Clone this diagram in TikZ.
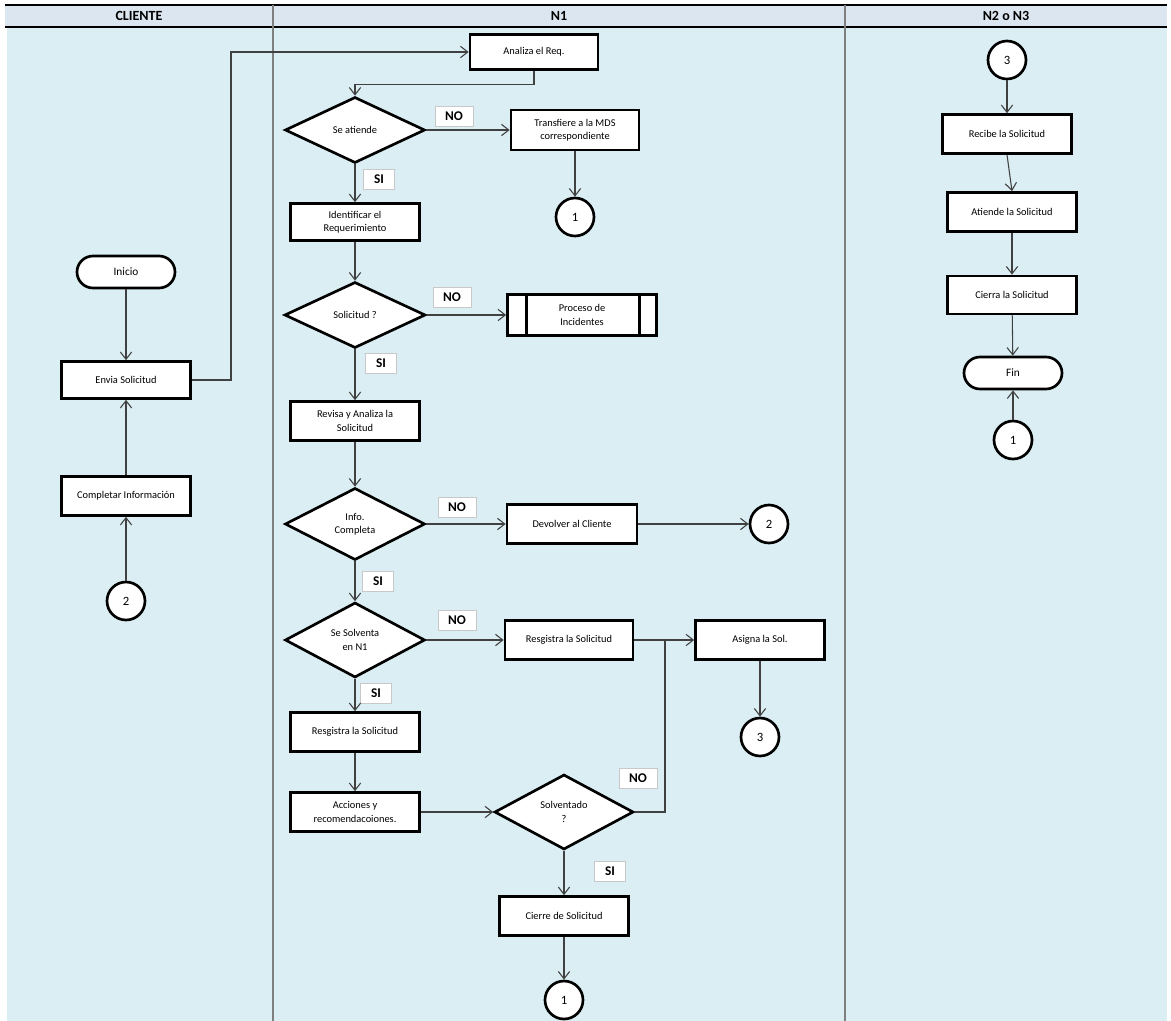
\documentclass[tikz,border=0pt]{standalone}
\usepackage{fontspec}
\setmainfont{Carlito}
\usetikzlibrary{shapes.geometric,arrows.meta}
\definecolor{lanefill}{HTML}{DAEEF3}
\definecolor{headfill}{HTML}{DCE6F1}
\definecolor{divider}{HTML}{7F7F7F}
\definecolor{connc}{HTML}{404040}
\definecolor{lblborder}{HTML}{C8C8C8}
\begin{document}
\begin{tikzpicture}[x=0.75pt,y=-0.75pt,
  sz/.style 2 args={minimum width=#1*0.75pt, minimum height=#2*0.75pt},
  box/.style={draw=black,line width=2pt,fill=white,align=center,inner sep=1pt,
    font=\fontsize{7.8}{10}\selectfont},
  dia/.style={diamond,aspect=2,draw=black,line width=2pt,fill=white,align=center,inner sep=0pt,
    font=\fontsize{7.8}{10}\selectfont},
  term/.style={draw=black,line width=2pt,fill=white,rounded corners=12pt,align=center,
    font=\fontsize{8.5}{10}\selectfont,sz={98}{32}},
  conn/.style={draw=connc,line width=0.8pt,-{Straight Barb[length=5.5pt,width=8.5pt]}},
  plain/.style={draw=connc,line width=0.8pt},
  circ/.style={circle,draw=black,line width=2pt,fill=white,minimum size=28.5pt,inner sep=0pt,
    font=\fontsize{9.5}{10}\selectfont},
  lbl/.style={draw=lblborder,line width=0.6pt,fill=white,font=\bfseries\fontsize{10}{11}\selectfont,
    inner sep=0pt,sz={38}{20}},
  lblsi/.style={lbl,sz={31}{20}},
  head/.style={font=\bfseries\fontsize{10.5}{11}\selectfont}
]
\useasboundingbox (0,0) rectangle (1171,1021);
% background and lanes
\fill[white] (0,0) rectangle (1171,1021);
\fill[lanefill] (7,27) rectangle (1167,1021);
\fill[headfill] (5,5) rectangle (1167,27);
\draw[black,line width=1pt] (5,5) -- (1167,5);
\draw[black,line width=1pt] (5,27) -- (1167,27);
\draw[divider,line width=1.2pt] (273,5) -- (273,1021);
\draw[divider,line width=1.2pt] (845,5) -- (845,1021);
\node[head] (hcli) at (139,16) {CLIENTE};
\node[head] (hn1) at (559,16) {N1};
\node[head] (hn2) at (1006,16) {N2 o N3};

% CLIENTE lane
\node[term] (inicio) at (126,272) {Inicio};
\node[box,sz={129}{37}] (envia) at (126,380) {Envia Solicitud};
\node[box,sz={129}{39}] (comp) at (126,496) {Completar Información};
\node[circ] (c2a) at (126,601) {2};

% N1 lane
\node[box,sz={128}{35}] (analiza) at (534,52) {Analiza el Req.};
\node[dia,sz={140}{66}] (atiende) at (355,130) {Se atiende};
\node[box,sz={128}{40}] (transf) at (575,130) {Transfiere a la MDS\\correspondiente};
\node[circ] (c1a) at (575,217) {1};
\node[box,sz={129}{37}] (ident) at (355,222) {Identificar el\\Requerimiento};
\node[dia,sz={141}{66}] (solic) at (355,315) {Solicitud ?};
\node[box,sz={149}{41}] (proc) at (582,315) {Proceso de\\Incidentes};
\draw[black,line width=2pt] ([xshift=15pt]proc.north west) -- ([xshift=15pt]proc.south west);
\draw[black,line width=2pt] ([xshift=-14pt]proc.north east) -- ([xshift=-14pt]proc.south east);
\node[box,sz={129}{39}] (revisa) at (355,421) {Revisa y Analiza la\\Solicitud};
\node[dia,sz={140}{72}] (info) at (355,524) {Info.\\Completa};
\node[box,sz={130}{39}] (devolver) at (572,524) {Devolver al Cliente};
\node[circ] (c2b) at (769,524) {2};
\node[dia,sz={140}{75}] (solventa) at (355,640) {Se Solventa\\en N1};
\node[box,sz={128}{39}] (reg2) at (569,640) {Resgistra la Solicitud};
\node[box,sz={129}{39}] (asigna) at (760,640) {Asigna la Sol.};
\node[circ] (c3a) at (760,737) {3};
\node[box,sz={129}{39}] (reg1) at (355,732) {Resgistra la Solicitud};
\node[box,sz={129}{39}] (acc) at (355,812) {Acciones y\\recomendacoiones.};
\node[dia,sz={139}{75}] (solvtdo) at (564,812) {Solventado\\?};
\node[box,sz={129}{39}] (cierre) at (564,916) {Cierre de Solicitud};
\node[circ] (c1b) at (564,1000) {1};
\coordinate (k3) at (665,640);

% labels
\node[lbl] (no1) at (454,116) {NO};
\node[lblsi] (si1) at (379,179) {SI};
\node[lbl] (no2) at (452,297) {NO};
\node[lblsi] (si2) at (381,363) {SI};
\node[lbl] (no3) at (457,507) {NO};
\node[lblsi] (si3) at (378,581) {SI};
\node[lbl] (no4) at (457,620) {NO};
\node[lblsi] (si4) at (376,693) {SI};
\node[lbl] (no5) at (638,778) {NO};
\node[lblsi] (si5) at (610,871) {SI};

% N2 o N3 lane
\node[circ] (c3b) at (1007,60) {3};
\node[box,sz={129}{39}] (recibe) at (1007,134) {Recibe la Solicitud};
\node[box,sz={129}{39}] (atiende2) at (1012,212) {Atiende la Solicitud};
\node[box,sz={129}{38}] (cierra) at (1012,295) {Cierra la Solicitud};
\node[term] (fin) at (1013,373) {Fin};
\node[circ] (c1c) at (1013,440) {1};

% connectors CLIENTE
\draw[conn] (inicio) -- (envia);
\draw[conn] (comp) -- (envia);
\draw[conn] (c2a) -- (comp);
\coordinate (k1) at (231,52);
\draw[conn] (envia.east) -| (k1) -- (analiza.west);

% connectors N1
\draw[conn] (analiza.south) -- ++(0,14) -| (atiende.north);
\draw[conn] (atiende) -- (transf);
\draw[conn] (transf) -- (c1a);
\draw[conn] (atiende) -- (ident);
\draw[conn] (ident) -- (solic);
\draw[conn] (solic) -- (proc);
\draw[conn] (solic) -- (revisa);
\draw[conn] (revisa) -- (info);
\draw[conn] (info) -- (devolver);
\draw[conn] (devolver) -- (c2b);
\draw[conn] (info) -- (solventa);
\draw[conn] (solventa) -- (reg2);
\draw[conn] (reg2) -- (asigna);
\draw[conn] (solventa) -- (reg1);
\draw[conn] (reg1) -- (acc);
\draw[conn] (acc) -- (solvtdo);
\draw[plain] (solvtdo.east) -| (k3);
\draw[conn] (asigna) -- (c3a);
\draw[conn] (solvtdo) -- (cierre);
\draw[conn] (cierre) -- (c1b);

% connectors N2 o N3
\draw[conn] (c3b) -- (recibe);
\draw[conn] (recibe.south) -- (atiende2.north);
\draw[conn] (atiende2) -- (cierra);
\draw[conn] (cierra) -- (fin);
\draw[conn] (c1c) -- (fin);
\end{tikzpicture}
\end{document}
